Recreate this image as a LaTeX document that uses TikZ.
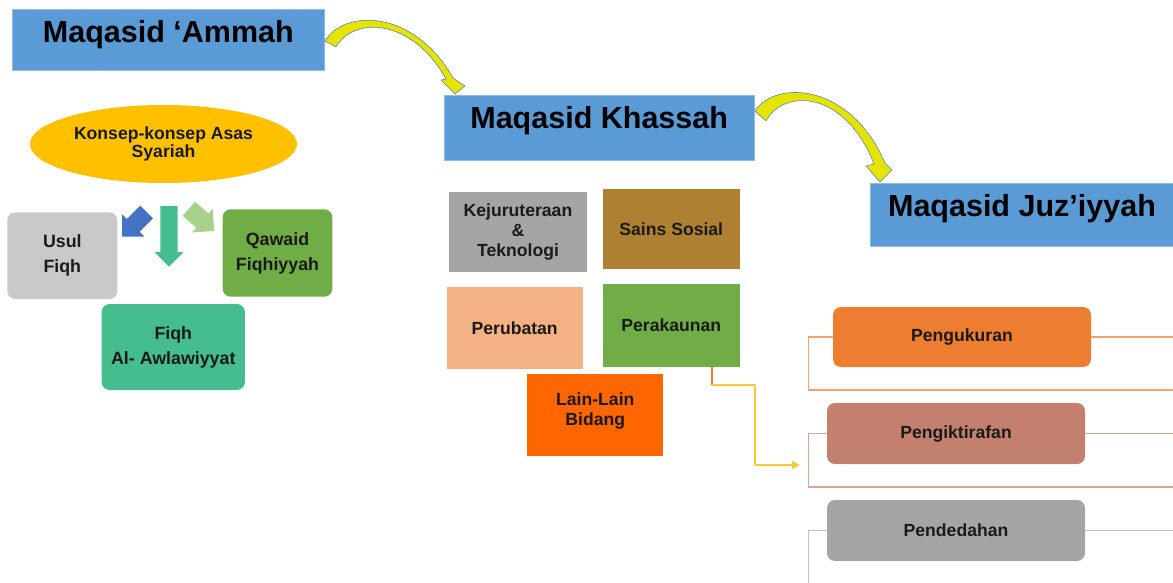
\documentclass[tikz,border=0pt]{standalone}
\usepackage{fontspec}
\setmainfont{Liberation Sans}
\usetikzlibrary{shapes.geometric,arrows.meta,calc}

\definecolor{hdrblue}{HTML}{5B9BD5}
\definecolor{hdredge}{HTML}{8DBBE5}
\definecolor{ellgold}{HTML}{FFC000}
\definecolor{usulgray}{HTML}{C9C9C9}
\definecolor{leafgreen}{HTML}{70AD47}
\definecolor{seagreen}{HTML}{45BD8E}
\definecolor{arrblue}{HTML}{4472C4}
\definecolor{palegreen}{HTML}{A9D18E}
\definecolor{midgray}{HTML}{A5A5A5}
\definecolor{ochre}{HTML}{AE8132}
\definecolor{peach}{HTML}{F4B183}
\definecolor{vermil}{HTML}{FF6600}
\definecolor{pumpkin}{HTML}{ED7D31}
\definecolor{terracotta}{HTML}{C4806F}
\definecolor{brkorange}{HTML}{F4A46C}
\definecolor{brkrose}{HTML}{D9A597}
\definecolor{brkgray}{HTML}{C0C0C0}
\definecolor{curvefill}{HTML}{E4E400}
\definecolor{curveedge}{HTML}{5F86A8}
\definecolor{linkyellow}{HTML}{FFC83A}
\definecolor{ink}{HTML}{1A1A1A}

% straight block arrow: colour, tail centre, angle, length, head length, head half-width, shaft half-width
\newcommand{\blockarrow}[7]{%
  \fill[#1, shift={#2}, rotate=#3]
    (0,-#7) -- ({#4-#5},-#7) -- ({#4-#5},-#6) -- (#4,0)
    -- ({#4-#5},#6) -- ({#4-#5},#7) -- (0,#7) -- cycle;}

\tikzset{
  header/.style={fill=hdrblue, draw=hdredge, line width=0.8pt, inner sep=0pt,
    font=\fontsize{30.5}{36}\selectfont\bfseries, text=black},
  lbl/.style={font=\fontsize{17.6}{20}\selectfont\bfseries, text=ink,
    align=center, inner sep=0pt},
  widelbl/.style={lbl, font=\fontsize{17.8}{25}\selectfont\bfseries},
  card/.style={rounded corners=8pt},
  bracket/.style={line width=1.3pt},
  curved/.style={fill=curvefill, draw=curveedge, line width=0.6pt, line join=round},
}

\begin{document}
\begin{tikzpicture}[x=1pt,y=-1pt]
\useasboundingbox (0,0) rectangle (1173,583);

% headings
\node[header, minimum width=311.3pt, text height=33.7pt, text depth=27.3pt]
  (ammah) at (168.4,39.5) {Maqasid ‘Ammah};
\node[header, minimum width=309.7pt, text height=33.3pt, text depth=31.7pt]
  (khassah) at (599.2,127.5) {Maqasid Khassah};
\node[header, minimum width=304pt, text height=33.4pt, text depth=29.3pt]
  (juz) at (1022,214.7) {Maqasid Juz’iyyah};

% curved arrows between the headings
\path[curved] (325,41) .. controls (345,8) and (415,10) .. (453,78)
  -- (465,86) -- (455,94) -- (441,80) -- (446,79)
  .. controls (412,18) and (354,16) .. (336,47) -- cycle;
\path[curved] (755,111) .. controls (775,80) and (850,82) .. (885,163)
  -- (892,170) -- (880,182) -- (866,166) -- (874,164)
  .. controls (845,90) and (784,88) .. (766,121) -- cycle;

% basic concepts cluster
\node[ellipse, fill=ellgold, minimum width=267pt, minimum height=78pt, inner sep=0pt,
  lbl, font=\fontsize{17.6}{17.5}\selectfont\bfseries]
  (konsep) at (163.5,144) {Konsep-konsep Asas\\Syariah};
\node[card, fill=usulgray, minimum width=110pt, minimum height=86.7pt, widelbl]
  (usul) at (62.3,255.7) {Usul\\Fiqh};
\node[card, fill=leafgreen, minimum width=109.6pt, minimum height=87.4pt, widelbl]
  (qawaid) at (277.5,253) {Qawaid\\Fiqhiyyah};
\node[card, fill=seagreen, minimum width=143.3pt, minimum height=86pt, widelbl]
  (awla) at (173.3,347) {Fiqh\\Al- Awlawiyyat};

\blockarrow{arrblue}{(146.7,212)}{225}{34.7}{15.7}{15.7}{9}
\blockarrow{seagreen}{(169,206)}{-90}{60.7}{14.5}{14.5}{8.7}
\blockarrow{palegreen}{(188.8,208.8)}{-41}{33.7}{15.7}{15.7}{9.4}

% fields
\node[fill=midgray, minimum width=137.4pt, minimum height=80.6pt, lbl]
  (kejur) at (518,232) {Kejuruteraan\\\&\\Teknologi};
\node[fill=ochre, minimum width=137.3pt, minimum height=80.3pt, lbl]
  (sains) at (671.3,229.2) {Sains Sosial};
\node[fill=peach, minimum width=136pt, minimum height=81.7pt, lbl]
  (perubatan) at (514.7,328.2) {Perubatan};
\node[fill=leafgreen, minimum width=137.3pt, minimum height=82.4pt, lbl]
  (perak) at (671.3,325.5) {Perakaunan};
\node[fill=vermil, minimum width=136pt, minimum height=81.7pt, lbl,
  text depth=12pt]
  (lain) at (595.3,415.2) {Lain-Lain\\Bidang};

% specific objectives
\node[card, fill=pumpkin, minimum width=258pt, minimum height=60pt, lbl]
  (ukur) at (962,337) {Pengukuran};
\node[card, fill=terracotta, minimum width=258pt, minimum height=61pt, lbl]
  (iktiraf) at (956,433.5) {Pengiktirafan};
\node[card, fill=midgray, minimum width=258pt, minimum height=61pt, lbl]
  (dedah) at (956,530.5) {Pendedahan};

\coordinate (rim) at (1173,0);
\coordinate (ukurfoot) at (1173,390);
\coordinate (iktiraffoot) at (1173,487);
\coordinate (floor) at (0,583);

\draw[bracket, brkorange] (ukur.west) -- ++(-24,0) |- (ukurfoot);
\draw[bracket, brkorange] (ukur.east) -- (ukur.east -| rim);
\draw[bracket, brkrose] (iktiraf.west) -- ++(-18,0) |- (iktiraffoot);
\draw[bracket, brkrose] (iktiraf.east) -- (iktiraf.east -| rim);
\draw[bracket, brkgray] (dedah.west) -- ++(-18,0) coordinate (dedahcorner)
  -- (dedahcorner |- floor);
\draw[bracket, brkgray] (dedah.east) -- (dedah.east -| rim);

% link from Perakaunan to the recognition branch
\coordinate (linkend) at (800,465);
\draw[pumpkin, line width=1.8pt] ([xshift=40.7pt]perak.south) -- ++(0,18) coordinate (linkbend);
\draw[linkyellow, line width=1.8pt, line join=round, -{Triangle[length=8pt,width=8pt]}]
  (linkbend) -- ++(43,0) |- (linkend);
\end{tikzpicture}
\end{document}
